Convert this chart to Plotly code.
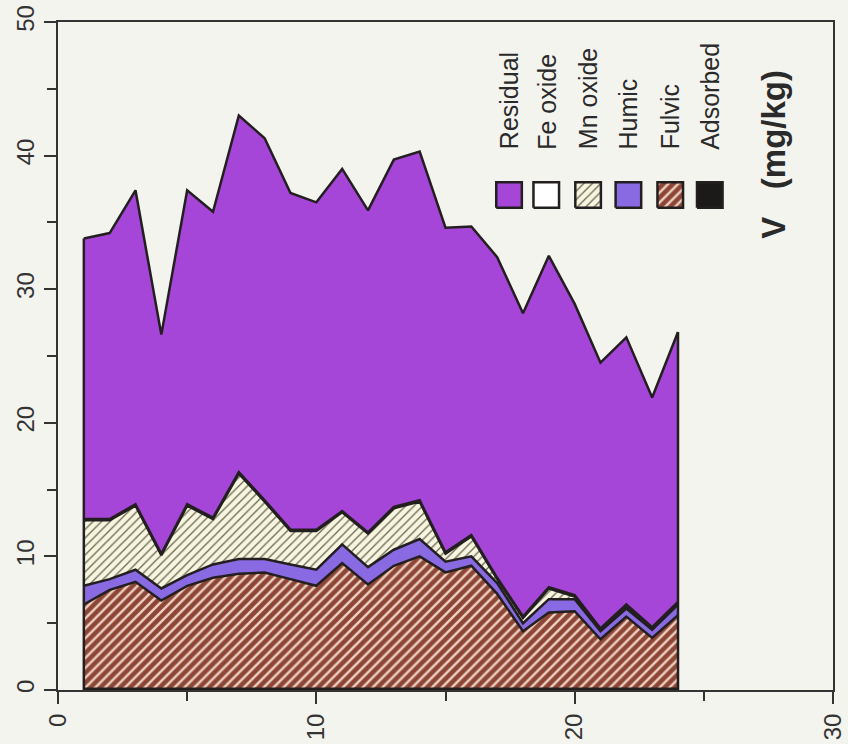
import plotly.graph_objects as go

# Sample positions along the profile
samples = list(range(1, 25))

# Vanadium fractions (mg/kg), stacked from the bottom up
adsorbed = [0.1] * 24
fulvic = [6.3, 7.4, 8.0, 6.6, 7.7, 8.3, 8.6, 8.7, 8.2, 7.7, 9.4, 7.8,
          9.2, 9.9, 8.7, 9.2, 7.1, 4.3, 5.7, 5.8, 3.7, 5.4, 3.8, 5.5]
humic = [1.4, 0.8, 0.9, 0.9, 0.8, 1.0, 1.1, 1.0, 1.1, 1.2, 1.4, 1.3,
         1.2, 1.3, 0.8, 0.7, 0.8, 0.6, 1.0, 0.9, 0.6, 0.6, 0.6, 0.8]
mn_oxide = [4.9, 4.4, 4.8, 2.5, 5.2, 3.4, 6.4, 4.3, 2.5, 2.9, 2.4, 2.5,
            3.1, 2.8, 0.6, 1.5, 0.3, 0.4, 0.8, 0.2, 0.1, 0.2, 0.1, 0.1]
fe_oxide = [0.1] * 24
residual = [21.0, 21.4, 23.5, 16.4, 23.5, 22.9, 26.7, 27.1, 25.2, 24.5, 25.6, 24.1,
            26.0, 26.1, 24.3, 23.1, 24.0, 22.7, 24.8, 21.8, 19.9, 20.0, 17.2, 20.2]

x_ticks = [0, 10, 20, 30]
y_ticks = [0, 10, 20, 30, 40, 50]
legend_names = ["Residual", "Fe oxide", "Mn oxide", "Humic", "Fulvic", "Adsorbed"]

EDGE = "#231f20"
BG = "#f4f4ef"
PURPLE = "#a646d8"
LAVENDER = "#8a6ae2"
BROWN_BG = "#8c4636"
BROWN_FG = "#f0cfc0"
CREAM_BG = "#f7f5df"
CREAM_FG = "#6a6950"
FONT = "Liberation Sans, Arial, Helvetica"

styles = {
    "Adsorbed": dict(fillcolor="#1c1a18"),
    "Fulvic": dict(fillpattern=dict(shape="/", bgcolor=BROWN_BG, fgcolor=BROWN_FG,
                                    size=7, solidity=0.35, fillmode="replace")),
    "Humic": dict(fillcolor=LAVENDER),
    "Mn oxide": dict(fillpattern=dict(shape="/", bgcolor=CREAM_BG, fgcolor=CREAM_FG,
                                      size=6, solidity=0.22, fillmode="replace")),
    "Fe oxide": dict(fillcolor="#ffffff"),
    "Residual": dict(fillcolor=PURPLE),
}

fig = go.Figure()
series = [("Adsorbed", adsorbed), ("Fulvic", fulvic), ("Humic", humic),
          ("Mn oxide", mn_oxide), ("Fe oxide", fe_oxide), ("Residual", residual)]
for name, vals in series:
    fig.add_trace(go.Scatter(
        x=samples, y=vals, name=name, mode="lines", stackgroup="v",
        line=dict(color=EDGE, width=2.5), showlegend=False,
        **styles[name]))

# Vertical outline at both ends of the stacked area
totals = [sum(v) for v in zip(adsorbed, fulvic, humic, mn_oxide, fe_oxide, residual)]
for i in (0, -1):
    fig.add_trace(go.Scatter(x=[samples[i], samples[i]], y=[0, totals[i]], mode="lines",
                             line=dict(color=EDGE, width=2.5), showlegend=False,
                             hoverinfo="skip"))

# Key: swatches drawn on an overlay axis spanning the plot area
sw_x = [0.582, 0.630, 0.684, 0.736, 0.790, 0.841]
sw_y = 0.741
hx, hy = 0.0165, 0.019
for name, cx in zip(legend_names, sw_x):
    st = dict(styles[name])
    fig.add_trace(go.Scatter(
        x=[cx - hx, cx + hx, cx + hx, cx - hx, cx - hx],
        y=[sw_y - hy, sw_y - hy, sw_y + hy, sw_y + hy, sw_y - hy],
        mode="lines", fill="toself", line=dict(color=EDGE, width=2.5),
        xaxis="x2", yaxis="y2", showlegend=False, hoverinfo="skip", **st))
    fig.add_annotation(text=name, x=cx, y=0.806, xref="paper", yref="paper",
                       xanchor="center", yanchor="bottom", textangle=-90,
                       showarrow=False,
                       font=dict(family=FONT, size=25, color="#2a2a2a"))

fig.add_annotation(text="<b>V&nbsp;&nbsp;&nbsp;(mg/kg)</b>", x=0.924, y=0.672,
                   xref="paper", yref="paper", xanchor="center", yanchor="bottom",
                   textangle=-90, showarrow=False,
                   font=dict(family=FONT, size=33, color="#2a2a2a"))

axis_font = dict(family=FONT, size=24, color="#333333")
common = dict(tickangle=-90, ticks="outside", ticklen=12, tickwidth=2,
              tickcolor="#333333", showline=True, linecolor="#333333", linewidth=2,
              mirror=True, showgrid=False, zeroline=False, tickfont=axis_font,
              automargin=False,
              minor=dict(dtick=5, ticks="outside", ticklen=9, tickwidth=2,
                         tickcolor="#333333", showgrid=False))
fig.update_layout(
    width=848, height=744,
    margin=dict(l=58, r=15, t=22, b=54),
    paper_bgcolor=BG, plot_bgcolor=BG,
    showlegend=False,
    xaxis=dict(range=[0, 30], tickvals=x_ticks, ticktext=[str(t) for t in x_ticks],
               **common),
    yaxis=dict(range=[0, 50], tickvals=y_ticks, ticktext=[str(t) for t in y_ticks],
               **common),
    xaxis2=dict(range=[0, 1], domain=[0, 1], overlaying="x", anchor="y2",
                visible=False, fixedrange=True),
    yaxis2=dict(range=[0, 1], domain=[0, 1], overlaying="y", anchor="x2",
                visible=False, fixedrange=True),
)

fig.write_html("out.html")
